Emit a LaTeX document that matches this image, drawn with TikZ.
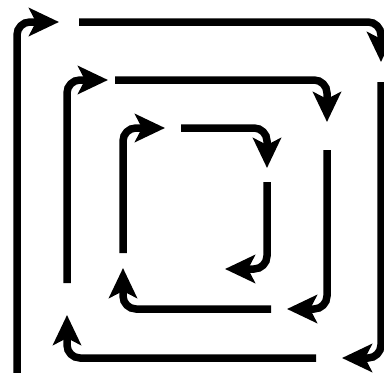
\documentclass[tikz,border=0pt]{standalone}
\usetikzlibrary{arrows.meta}
\begin{document}
\begin{tikzpicture}[x=1pt,y=-1pt,
  arr/.style={line width=7.5pt, rounded corners=13pt,
    -{Stealth[length=30pt,width=28pt,inset=7pt]}}]
\useasboundingbox (0,0) rectangle (384,373);
% outer loop
\coordinate (a0) at (17,385);  \coordinate (a1) at (17,22);   \coordinate (a2) at (59,22);
\coordinate (b0) at (79,22);   \coordinate (b1) at (381,22);  \coordinate (b2) at (381,62);
\coordinate (c0) at (381,82);  \coordinate (c1) at (381,358); \coordinate (c2) at (342,358);
\coordinate (d0) at (316,358); \coordinate (d1) at (67,358);  \coordinate (d2) at (67,315);
% middle loop
\coordinate (e0) at (67,283);  \coordinate (e1) at (67,80);   \coordinate (e2) at (108,80);
\coordinate (f0) at (115,80);  \coordinate (f1) at (327,80);  \coordinate (f2) at (327,122);
\coordinate (g0) at (327,150); \coordinate (g1) at (327,309); \coordinate (g2) at (287,309);
\coordinate (h0) at (271,309); \coordinate (h1) at (123,309); \coordinate (h2) at (123,268);
% inner loop
\coordinate (i0) at (123,253); \coordinate (i1) at (123,128); \coordinate (i2) at (165,128);
\coordinate (j0) at (181,128); \coordinate (j1) at (267,128); \coordinate (j2) at (267,168);
\coordinate (k0) at (267,182); \coordinate (k1) at (267,269); \coordinate (k2) at (225,269);
\foreach \s in {a,b,c,d,e,f,g,h,i,j,k}
  \draw[arr] (\s0) -- (\s1) -- (\s2);
\end{tikzpicture}
\end{document}
